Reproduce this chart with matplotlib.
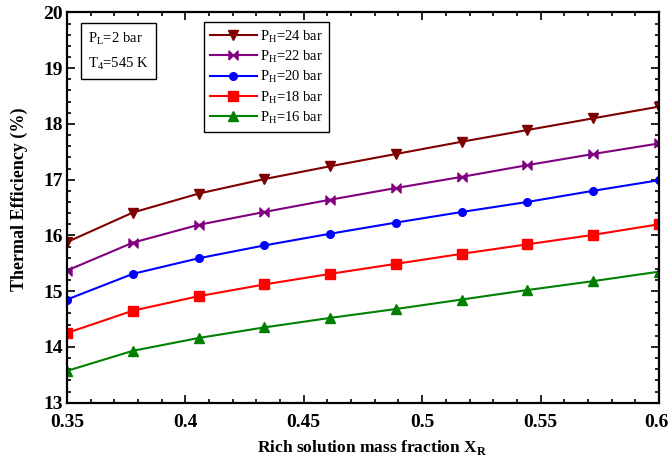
import numpy as np
import matplotlib
matplotlib.use("Agg")
import matplotlib.pyplot as plt
import matplotlib.transforms as mtransforms
from matplotlib.ticker import MultipleLocator

plt.rcParams["font.family"] = ["Liberation Serif", "DejaVu Serif"]
plt.rcParams["mathtext.fontset"] = "custom"
plt.rcParams["mathtext.rm"] = "Liberation Serif"
plt.rcParams["mathtext.bf"] = "Liberation Serif:bold"

# Rich solution mass fraction
x_rich = [0.35, 0.3778, 0.4056, 0.4333, 0.4611, 0.4889, 0.5167, 0.5444, 0.5722, 0.60]

# Thermal efficiency (%) for each high-side pressure
eff_24 = [15.88, 16.41, 16.75, 17.01, 17.24, 17.46, 17.68, 17.89, 18.10, 18.31]
eff_22 = [15.37, 15.87, 16.19, 16.42, 16.64, 16.85, 17.05, 17.26, 17.46, 17.65]
eff_20 = [14.85, 15.31, 15.59, 15.82, 16.03, 16.23, 16.42, 16.60, 16.80, 16.99]
eff_18 = [14.25, 14.65, 14.91, 15.12, 15.31, 15.49, 15.67, 15.84, 16.01, 16.20]
eff_16 = [13.57, 13.93, 14.16, 14.35, 14.52, 14.68, 14.85, 15.02, 15.18, 15.35]

labels = ["24", "22", "20", "18", "16"]

# horizontal bow-tie marker
bowtie = [(-1, -1), (-1, 1), (0, 0), (1, 1), (1, -1), (0, 0), (-1, -1)]

fig = plt.figure(figsize=(6.69, 4.59), dpi=100)
ax = fig.add_axes([0.1001, 0.1227, 0.8849, 0.8503])

styles = [
    (eff_24, "#7f0000", "v", 6.5),
    (eff_22, "#800080", bowtie, 6.5),
    (eff_20, "#0000ff", "o", 5.5),
    (eff_18, "#ff0000", "s", 6.5),
    (eff_16, "#008000", "^", 6.5),
]
for (vals, col, mk, ms), lab in zip(styles, labels):
    ax.plot(x_rich, vals, color=col, lw=1.5, marker=mk, ms=ms,
            mec=col, mfc=col, label=r"P$_{\rm H}$=" + lab + " bar")

ax.set_xlim(0.35, 0.60)
ax.set_ylim(13, 20)
ax.xaxis.set_minor_locator(MultipleLocator(0.01))
ax.yaxis.set_major_locator(MultipleLocator(1))
ax.yaxis.set_minor_locator(MultipleLocator(0.2))
ax.set_xticks([0.35, 0.4, 0.45, 0.5, 0.55, 0.6])
ax.set_xticklabels(["0.35", "0.4", "0.45", "0.5", "0.55", "0.6"])
ax.tick_params(which="both", direction="in", top=True, right=True, width=1.2)
ax.tick_params(which="major", length=6, labelsize=14)
ax.tick_params(axis="x", which="major", pad=8)
ax.tick_params(axis="y", which="major", pad=3)
ax.tick_params(which="minor", length=3)
for lbl in ax.get_xticklabels() + ax.get_yticklabels():
    lbl.set_fontweight("bold")
for sp in ax.spines.values():
    sp.set_linewidth(1.6)

# keep the last x tick label inside the figure edge
last = ax.xaxis.get_major_ticks()[-1].label1
last.set_transform(last.get_transform() +
                   mtransforms.ScaledTranslation(-3 / 100, 0, fig.dpi_scale_trans))

ax.set_xlabel(r"Rich solution mass fraction X$_{\mathbf{R}}$", fontsize=12.5,
              fontweight="bold", labelpad=6)
ax.xaxis.set_label_coords(0.515, -0.09)
ax.set_ylabel("Thermal Efficiency (%)", fontsize=13, fontweight="bold")
ax.yaxis.set_label_coords(-0.066, 0.52)

leg = ax.legend(loc="upper left", bbox_to_anchor=(0.232, 0.975), fontsize=10.5,
                frameon=True, fancybox=False, edgecolor="black", framealpha=1,
                handlelength=3.2, handletextpad=0.2, borderpad=0.4,
                labelspacing=0.25, borderaxespad=0)
leg.get_frame().set_linewidth(1.0)

ax.text(0.036, 0.955, "P$_{\\rm L}$=2 bar\n\nT$_{4}$=545 K", transform=ax.transAxes,
        fontsize=10.5, va="top", ha="left", linespacing=0.8,
        bbox=dict(boxstyle="square,pad=0.5", fc="white", ec="black", lw=1.0))

fig.savefig("out.png", dpi=100)
